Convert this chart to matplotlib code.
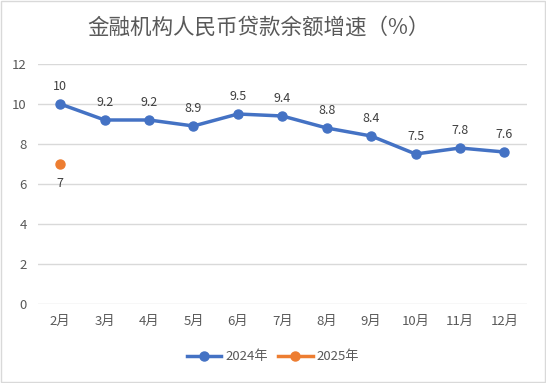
import matplotlib
matplotlib.use("Agg")
import matplotlib.pyplot as plt

plt.rcParams['font.family'] = ['Noto Sans CJK SC', 'DejaVu Sans']

aylar = ["2月", "3月", "4月", "5月", "6月", "7月", "8月", "9月", "10月", "11月", "12月"]
seri2024 = [10, 9.2, 9.2, 8.9, 9.5, 9.4, 8.8, 8.4, 7.5, 7.8, 7.6]
seri2025 = [7]
baslik = "金融机构人民币贷款余额增速（%）"

mavi = "#4472C4"
turuncu = "#ED7D31"

fig = plt.figure(figsize=(5.46, 3.83), dpi=100)
fig.patches.append(plt.Rectangle((0.002, 0.002), 0.996, 0.996, transform=fig.transFigure,
                                 fill=False, edgecolor="#D9D9D9", linewidth=1))

eksen = fig.add_axes([0.0696, 0.206, 0.895, 0.627])
x = list(range(len(aylar)))
eksen.plot(x, seri2024, color=mavi, linewidth=2.5, marker="o", markersize=6.5, label="2024年", zorder=3)
eksen.plot(x[:len(seri2025)], seri2025, color=turuncu, linewidth=2.5, marker="o", markersize=6.5,
           linestyle="none", label="2025年", zorder=3)

# veri etiketleri
for xi, yi in zip(x, seri2024):
    eksen.annotate(f"{yi:g}", (xi, yi), xytext=(0, 8), textcoords="offset points",
                   ha="center", va="bottom", fontsize=9, color="#404040")
for xi, yi in zip(x, seri2025):
    eksen.annotate(f"{yi:g}", (xi, yi), xytext=(0, -9), textcoords="offset points",
                   ha="center", va="top", fontsize=9, color="#404040")

eksen.set_xlim(-0.5, len(aylar) - 0.5)
eksen.set_ylim(0, 12)
eksen.set_yticks(range(0, 13, 2))
eksen.set_xticks(x)
eksen.set_xticklabels(aylar)
eksen.tick_params(length=0, labelsize=9.5, labelcolor="#595959", pad=8)
eksen.grid(axis="y", color="#D9D9D9", linewidth=1)
eksen.set_axisbelow(True)
for s in eksen.spines.values():
    s.set_visible(False)

fig.text(0.473, 0.928, baslik, ha="center", va="center", fontsize=15.5, color="#595959")

lines = [plt.Line2D([], [], color=mavi, linewidth=2.5, marker="o", markersize=6.5),
         plt.Line2D([], [], color=turuncu, linewidth=2.5, marker="o", markersize=6.5)]
fig.legend(lines, ["2024年", "2025年"], loc="center", bbox_to_anchor=(0.5, 0.068), ncol=2,
           frameon=False, fontsize=9.5, labelcolor="#595959", handlelength=2.6,
           columnspacing=0.8, handletextpad=0.3)

fig.savefig("out.png", dpi=100)
